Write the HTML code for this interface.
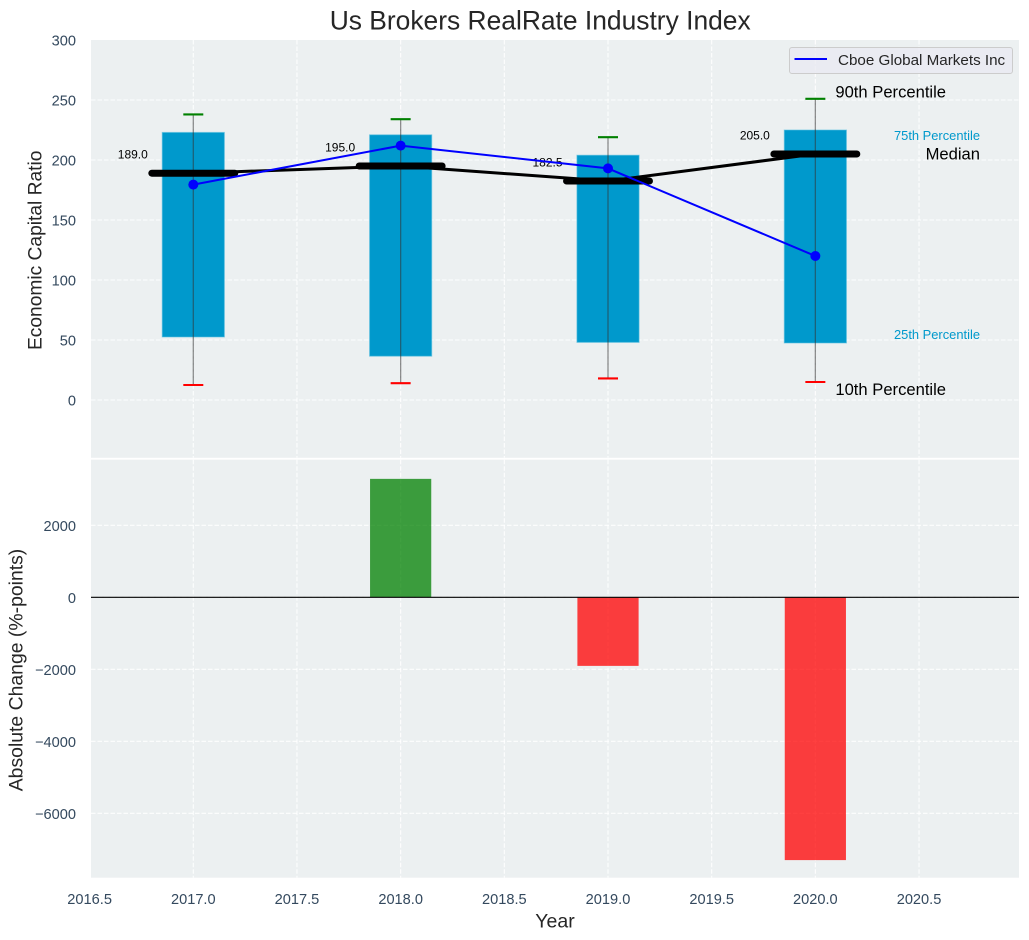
<!DOCTYPE html>
<html lang="en">
<head>
<meta charset="utf-8">
<title>Us Brokers RealRate Industry Index</title>
<style>
html,body{margin:0;padding:0;background:#fff;width:1029px;height:940px;overflow:hidden}
svg{display:block;font-family:"Liberation Sans",Arial,sans-serif}
</style>
</head>
<body>
<svg id="chart" width="1029" height="940" viewBox="0 0 1029 940" xmlns="http://www.w3.org/2000/svg">
  <rect x="91" y="40" width="928" height="417.8" fill="#ECF0F1"/>
  <rect x="91" y="459.7" width="928" height="418" fill="#ECF0F1"/>
  <g id="grid"></g>
  <g id="topMarks"></g>
  <g id="bottomMarks"></g>
  <g id="ticks"></g>
  <text x="540.2" y="29.5" text-anchor="middle" font-size="26.4" fill="#262626">Us Brokers RealRate Industry Index</text>
  <text transform="translate(41.7,250.3) rotate(-90)" text-anchor="middle" font-size="19.2" fill="#262626">Economic Capital Ratio</text>
  <text transform="translate(22.5,670) rotate(-90)" text-anchor="middle" font-size="19.4" fill="#262626">Absolute Change (%-points)</text>
  <text x="555" y="927.7" text-anchor="middle" font-size="19.5" fill="#262626">Year</text>
  <g>
    <rect x="789.5" y="47.5" width="223" height="26" rx="2.5" fill="#EAEAF2" fill-opacity="0.8" stroke="#cccccc"/>
    <line x1="794.5" y1="59" x2="827" y2="59" stroke="#0000ff" stroke-width="2"/>
    <text x="838" y="65" font-size="15.2" fill="#262626">Cboe Global Markets Inc</text>
  </g>
</svg>
<script>
var years = [2017, 2018, 2019, 2020];
var p10 = [12.5, 14, 18, 15];
var p25 = [52.5, 36.5, 48, 47.5];
var medians = [189, 195, 182.5, 205];
var p75 = [223, 221, 204, 225];
var p90 = [238, 234, 219, 251];
var company = [179.5, 212, 193, 120];
var changes = [null, 3290, -1905, -7300];
var medianLabels = ["189.0", "195.0", "182.5", "205.0"];
var xTicks = [2016.5, 2017, 2017.5, 2018, 2018.5, 2019, 2019.5, 2020, 2020.5];
var xTickLabels = ["2016.5", "2017.0", "2017.5", "2018.0", "2018.5", "2019.0", "2019.5", "2020.0", "2020.5"];
var topTicks = [0, 50, 100, 150, 200, 250, 300];
var bottomTicks = [-6000, -4000, -2000, 0, 2000];
var bottomTickLabels = ["\u22126000", "\u22124000", "\u22122000", "0", "2000"];

function xPos(v) { return 193.3 + (v - 2017) * 207.35; }
function yTop(v) { return 400 - v * 1.2; }
function yBottom(v) { return 597.3 - v * 0.036; }

var NS = "http://www.w3.org/2000/svg";
function make(parent, tag, attrs, text) {
  var el = document.createElementNS(NS, tag);
  for (var k in attrs) { el.setAttribute(k, attrs[k]); }
  if (text !== undefined) { el.textContent = text; }
  parent.appendChild(el);
  return el;
}
var gridG = document.getElementById("grid");
var topG = document.getElementById("topMarks");
var botG = document.getElementById("bottomMarks");
var tickG = document.getElementById("ticks");
var gridStyle = { stroke: "#ffffff", "stroke-width": 1.1, "stroke-dasharray": "4.5 2", "stroke-opacity": 0.9, fill: "none" };
function gridLine(x1, y1, x2, y2) {
  var l = make(gridG, "line", { x1: x1, y1: y1, x2: x2, y2: y2 });
  for (var k in gridStyle) { l.setAttribute(k, gridStyle[k]); }
  return l;
}

xTicks.forEach(function (t, i) {
  var x = xPos(t);
  if (x >= 91) {
    var a = gridLine(x, 40, x, 457.8);
    
    
    var b = gridLine(x, 459.7, x, 877.7);
    
    
  }
  var lab = make(tickG, "text", { x: x, y: 904, "text-anchor": "middle", "font-size": 14.6, fill: "#34495E" }, xTickLabels[i]);
  
  
});
topTicks.forEach(function (t) {
  var y = yTop(t);
  if (t < 300) {
    var g = gridLine(91, y, 1019, y);
    
    
  }
  var lab = make(tickG, "text", { x: 76, y: y + 5.5, "text-anchor": "end", "font-size": 14.6, fill: "#34495E" }, String(t));
  
  
});
bottomTicks.forEach(function (t, i) {
  var y = yBottom(t);
  var g = gridLine(91, y, 1019, y);
  
  
  var lab = make(tickG, "text", { x: 76, y: y + 5.5, "text-anchor": "end", "font-size": 14.6, fill: "#34495E" }, bottomTickLabels[i]);
  
  
});

var BAR_HALF = 0.15, MED_HALF = 0.2, CAP = 10;

years.forEach(function (yr, i) {
  var x = xPos(yr);
  var box = make(topG, "rect", {
    x: xPos(yr - BAR_HALF), y: yTop(p75[i]),
    width: xPos(yr + BAR_HALF) - xPos(yr - BAR_HALF),
    height: yTop(p25[i]) - yTop(p75[i]),
    fill: "#0099CC", stroke: "#5cc0e0", "stroke-opacity": 0.6, "stroke-width": 1
  });
  
  

  var whisker = make(topG, "line", { x1: x, y1: yTop(p90[i]), x2: x, y2: yTop(p10[i]), stroke: "#333333", "stroke-opacity": 0.55, "stroke-width": 1.3 });
  
  

  var capHi = make(topG, "line", { x1: x - CAP, y1: yTop(p90[i]), x2: x + CAP, y2: yTop(p90[i]), stroke: "#008000", "stroke-width": 2.1 });
  
  

  var capLo = make(topG, "line", { x1: x - CAP, y1: yTop(p10[i]), x2: x + CAP, y2: yTop(p10[i]), stroke: "#ff0000", "stroke-width": 2.1 });
  
  

  var medLabel = make(topG, "text", { x: xPos(yr) - 45.5, y: yTop(medians[i]) - 14.5, "text-anchor": "end", "font-size": 12, fill: "#000000" }, medianLabels[i]);
  
  
});

var medPts = years.map(function (yr, i) { return xPos(yr) + "," + yTop(medians[i]); }).join(" ");
var medLine = make(topG, "polyline", { points: medPts, fill: "none", stroke: "#000000", "stroke-width": 3 });



years.forEach(function (yr, i) {
  var bar = make(topG, "line", { x1: xPos(yr - MED_HALF), y1: yTop(medians[i]), x2: xPos(yr + MED_HALF), y2: yTop(medians[i]), stroke: "#000000", "stroke-width": 7, "stroke-linecap": "round" });
  
  
});

var coPts = years.map(function (yr, i) { return xPos(yr) + "," + yTop(company[i]); }).join(" ");
var coLine = make(topG, "polyline", { points: coPts, fill: "none", stroke: "#0000ff", "stroke-width": 2 });



years.forEach(function (yr, i) {
  var dot = make(topG, "circle", { cx: xPos(yr), cy: yTop(company[i]), r: 5, fill: "#0000ff" });
  
  
});

var last = years.length - 1;
var lastX = xPos(years[last]);
var t90 = make(topG, "text", { x: lastX + 20, y: yTop(p90[last]) - 1.5, "font-size": 16.6, fill: "#000000" }, "90th Percentile");


var t10 = make(topG, "text", { x: lastX + 20, y: yTop(p10[last]) + 13, "font-size": 16.6, fill: "#000000" }, "10th Percentile");


var tMed = make(topG, "text", { x: 980, y: yTop(medians[last]) + 5.5, "text-anchor": "end", "font-size": 16.6, fill: "#000000" }, "Median");


var t75 = make(topG, "text", { x: 980, y: yTop(p75[last]) + 10, "text-anchor": "end", "font-size": 12.9, fill: "#0099CC" }, "75th Percentile");


var t25 = make(topG, "text", { x: 980, y: yTop(p25[last]) - 4, "text-anchor": "end", "font-size": 12.9, fill: "#0099CC" }, "25th Percentile");



years.forEach(function (yr, i) {
  if (changes[i] === null) { return; }
  var y0 = yBottom(0), y1 = yBottom(changes[i]);
  var up = changes[i] >= 0;
  var r = make(botG, "rect", {
    x: xPos(yr - BAR_HALF) + 0.5, y: Math.min(y0, y1),
    width: xPos(yr + BAR_HALF) - xPos(yr - BAR_HALF) - 1,
    height: Math.abs(y1 - y0),
    fill: up ? "#008000" : "#ff0000", "fill-opacity": 0.75
  });
  
  
});
var zero = make(botG, "line", { x1: 91, y1: yBottom(0), x2: 1019, y2: yBottom(0), stroke: "#000000", "stroke-width": 1.2 });


</script>
</body>
</html>
